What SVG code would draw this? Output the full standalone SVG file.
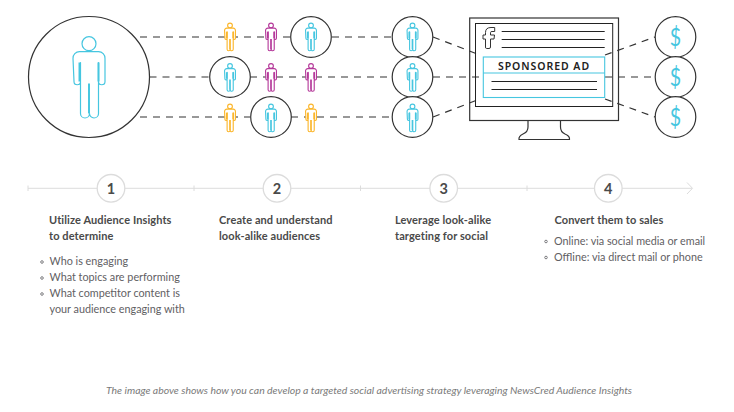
<svg xmlns="http://www.w3.org/2000/svg" width="734" height="412" viewBox="0 0 734 412">
<style>
.t{font-family:Lato,"Liberation Sans",sans-serif}
.h{font-size:11px;font-weight:700;letter-spacing:.1px;fill:#4a4a4a}
.b{font-size:10.800px;fill:#5f6063}
.n{font-size:14.500px;font-weight:700;fill:#4a4a4a;text-anchor:middle}
.c{fill:#fff;stroke:#333;stroke-width:1.2}
.d{fill:none;stroke:#333;stroke-width:1.2;stroke-dasharray:7 6}
.l{fill:none;stroke:#222;stroke-width:1}
.m{fill:none;stroke:#333;stroke-width:1.2}
.ad{fill:none;stroke:#46c6e0;stroke-width:1.1}
.tl{fill:none;stroke:#dcdcdc;stroke-width:1}
.nc{fill:#fff;stroke:#dcdcdc;stroke-width:1.3}
.bu{fill:none;stroke:#5f6063;stroke-width:.8}
.y{stroke:#fbb62c}.p{stroke:#b5399a}.u{stroke:#46c6e0}
.dl{font-family:Lato,"Liberation Sans",sans-serif;font-size:24.500px;fill:#46c6e0;text-anchor:middle}
</style>
<defs>
<g id="person" fill="#fff" stroke-linejoin="round">
<circle cx="0" cy="7.2" r="7"/>
<path d="M-16 22a6.500 6.500 0 0 1 6.500-6.800h19a6.500 6.500 0 0 1 6.500 6.800v23a3 3 0 0 1-6.500 0V26V77a4.500 4.500 0 0 1-9 0 4.500 4.500 0 0 1-9 0V26V45a3 3 0 0 1-6.500 0Z"/>
<path d="M0 47V77M-9.500 26V45M9.500 26V45" fill="none" stroke-width="1.5em"/>
</g>
</defs>
<g id="connectors">
<path class="d" d="M140 37H291M332 37H392M149.500 77H209.500M250 77H392M140 117H250M291 117H392"/>
<path class="d" d="M433 37L480 55M433 77H483M433 117L480 99M605 55L655 37M605 77H655M605 99L655 117"/>
</g>
<g id="audience">
<circle class="c" cx="89" cy="77" r="60.500"/>
<use href="#person" transform="translate(89 36.500)" class="u" stroke-width="1.2" font-size="1.3"/>
</g>
<g id="lookalikes">
<circle class="c" cx="311" cy="37" r="20.300"/>
<circle class="c" cx="230" cy="77" r="20.300"/>
<circle class="c" cx="271" cy="117" r="20.300"/>
<use href="#person" transform="translate(230 23) scale(.34)" class="y" stroke-width="3.300" font-size="3.300"/>
<use href="#person" transform="translate(271 23) scale(.34)" class="p" stroke-width="3.300" font-size="3.300"/>
<use href="#person" transform="translate(311 23) scale(.34)" class="u" stroke-width="3.300" font-size="3.300"/>
<use href="#person" transform="translate(230 63.500) scale(.34)" class="u" stroke-width="3.300" font-size="3.300"/>
<use href="#person" transform="translate(271 63.500) scale(.34)" class="p" stroke-width="3.300" font-size="3.300"/>
<use href="#person" transform="translate(311 63.500) scale(.34)" class="p" stroke-width="3.300" font-size="3.300"/>
<use href="#person" transform="translate(230 104) scale(.34)" class="y" stroke-width="3.300" font-size="3.300"/>
<use href="#person" transform="translate(271 104) scale(.34)" class="u" stroke-width="3.300" font-size="3.300"/>
<use href="#person" transform="translate(311 104) scale(.34)" class="y" stroke-width="3.300" font-size="3.300"/>
</g>
<g id="targets">
<circle class="c" cx="412.500" cy="37" r="20.300"/>
<circle class="c" cx="412.500" cy="77" r="20.300"/>
<circle class="c" cx="412.500" cy="117" r="20.300"/>
<use href="#person" transform="translate(412.500 23) scale(.34)" class="u" stroke-width="3.300" font-size="3.300"/>
<use href="#person" transform="translate(412.500 63.500) scale(.34)" class="u" stroke-width="3.300" font-size="3.300"/>
<use href="#person" transform="translate(412.500 104) scale(.34)" class="u" stroke-width="3.300" font-size="3.300"/>
</g>
<g id="monitor">
<path class="m" d="M528 120.500V127Q528 132 523 134Q518.500 136 519 139.500H569.500Q570 136 565 134Q560.500 132 560.500 127V120.500"/>
<rect class="m" x="469.700" y="18" width="148.800" height="102.500"/>
<rect class="l" x="475.500" y="23.500" width="137.200" height="83"/>
<path fill="none" stroke="#333" stroke-width="1" d="M486.500 48.500H489Q490.500 48.500 490.500 47V39H494L494.500 35H490.500V32.500Q490.500 31.500 492 31.500H494.700V27.500H491Q485.500 27.500 485.500 32.500V35H483V39H485.500V47Q485.500 48.500 486.500 48.500Z"/>
<path class="l" d="M501.700 31.500H604.700M501.700 39.500H604.700M501.700 47.500H604.700"/>
<rect class="ad" x="483.300" y="57" width="121.400" height="40.500"/>
<path class="ad" d="M483.300 73H604.700"/>
<path class="l" d="M491.500 81.500H597M491.500 89.500H597"/>
<text x="544" y="70" text-anchor="middle" style="font-family:'Noto Sans',sans-serif;font-size:10.500px;font-weight:600;letter-spacing:.95px;fill:#222">SPONSORED AD</text>
</g>
<g id="sales">
<circle class="c" cx="675.500" cy="37" r="20.300"/>
<circle class="c" cx="675.500" cy="77" r="20.300"/>
<circle class="c" cx="675.500" cy="117" r="20.300"/>
<text class="dl" transform="translate(675.500 45.500) scale(.8 1)">$</text>
<text class="dl" transform="translate(675.500 85.500) scale(.8 1)">$</text>
<text class="dl" transform="translate(675.500 125.500) scale(.8 1)">$</text>
</g>
<g id="timeline">
<path class="tl" d="M28 188.300H692M28 185.500V191M194 185.500V191M360.500 185.500V191M527 185.500V191M687 182.500L692.500 188.300L687 194"/>
</g>
<g id="step1">
<circle class="nc" cx="111" cy="188.300" r="13.800"/>
<text class="t n" x="111" y="193.500">1</text>
<text class="t h" x="49" y="224">Utilize Audience Insights</text>
<text class="t h" x="49" y="240">to determine</text>
<circle class="bu" cx="42" cy="262" r="1.300"/><circle class="bu" cx="42" cy="278" r="1.300"/><circle class="bu" cx="42" cy="294" r="1.300"/>
<text class="t b" x="49.500" y="265">Who is engaging</text>
<text class="t b" x="49.500" y="281">What topics are performing</text>
<text class="t b" x="49.500" y="297">What competitor content is</text>
<text class="t b" x="49.500" y="313">your audience engaging with</text>
</g>
<g id="step2">
<circle class="nc" cx="277" cy="188.300" r="13.800"/>
<text class="t n" x="277" y="193.500">2</text>
<text class="t h" x="219" y="224">Create and understand</text>
<text class="t h" x="219" y="240">look-alike audiences</text>
</g>
<g id="step3">
<circle class="nc" cx="443.700" cy="188.300" r="13.800"/>
<text class="t n" x="443.700" y="193.500">3</text>
<text class="t h" x="395" y="224">Leverage look-alike</text>
<text class="t h" x="395" y="240">targeting for social</text>
</g>
<g id="step4">
<circle class="nc" cx="608.300" cy="188.300" r="13.800"/>
<text class="t n" x="608.300" y="193.500">4</text>
<text class="t h" x="554.500" y="224">Convert them to sales</text>
<circle class="bu" cx="546" cy="241.500" r="1.300"/><circle class="bu" cx="546" cy="257.500" r="1.300"/>
<text class="t b" x="554" y="245">Online: via social media or email</text>
<text class="t b" x="554" y="261">Offline: via direct mail or phone</text>
</g>
<text id="caption" x="369" y="394" text-anchor="middle" style="font-family:Lato,'Liberation Sans',sans-serif;font-style:italic;font-size:10.450px;fill:#7a7a7a">The image above shows how you can develop a targeted social advertising strategy leveraging NewsCred Audience Insights</text>
</svg>
